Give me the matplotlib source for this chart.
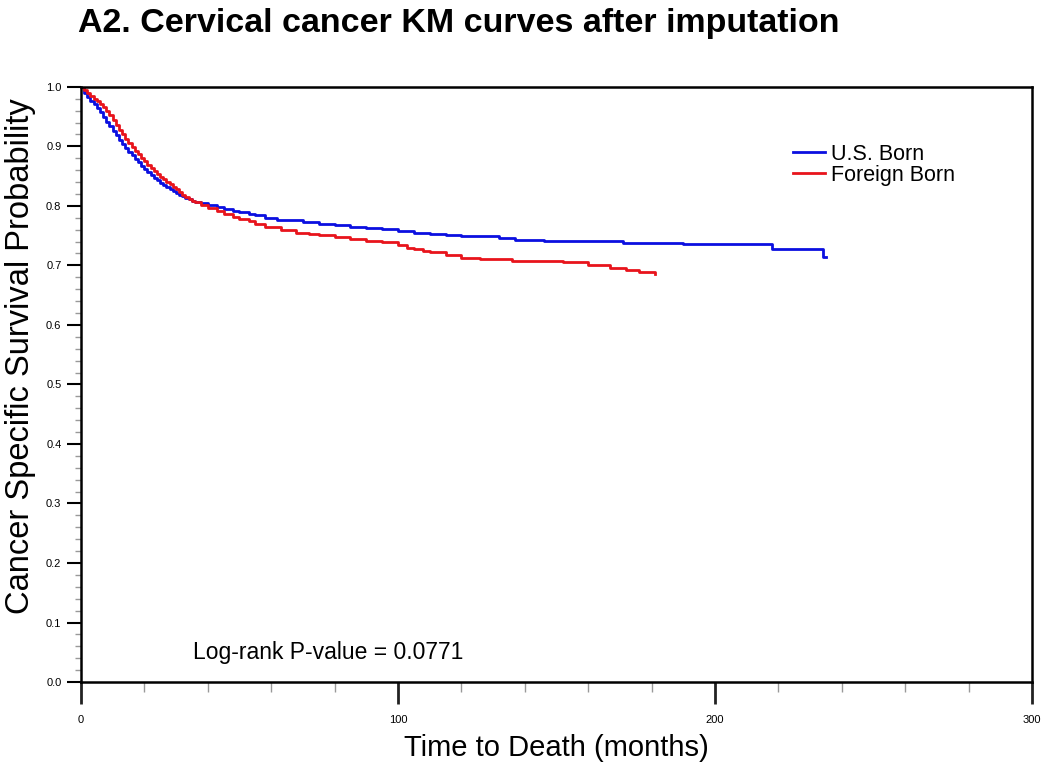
import matplotlib
matplotlib.use("Agg")
import matplotlib.pyplot as plt
from matplotlib.ticker import MultipleLocator

plt.rcParams['font.family'] = ['Liberation Sans', 'DejaVu Sans']

# Kaplan-Meier estimates (months, survival)
us_time = [0, 1, 2, 3, 4, 5, 6, 7, 8, 9, 10, 11, 12, 13, 14, 15, 16, 17, 18, 19, 20,
           21, 22, 23, 24, 25, 26, 27, 28, 29, 30, 31, 32, 33, 34, 35, 36, 38, 40, 43,
           45, 48, 50, 53, 55, 58, 62, 65, 70, 75, 80, 85, 90, 95, 100, 105, 110, 115,
           120, 126, 132, 137, 146, 171, 190, 218, 234, 235]
us_surv = [1.0, 0.99, 0.983, 0.977, 0.971, 0.964, 0.957, 0.949, 0.941, 0.934, 0.926, 0.919,
           0.911, 0.904, 0.897, 0.891, 0.885, 0.879, 0.873, 0.867, 0.862, 0.857, 0.852, 0.847,
           0.843, 0.838, 0.835, 0.831, 0.828, 0.825, 0.822, 0.819, 0.816, 0.813, 0.811, 0.809,
           0.807, 0.804, 0.801, 0.798, 0.795, 0.792, 0.790, 0.787, 0.784, 0.779, 0.777, 0.776,
           0.773, 0.770, 0.767, 0.765, 0.763, 0.761, 0.758, 0.755, 0.753, 0.751, 0.750, 0.749,
           0.746, 0.743, 0.741, 0.737, 0.736, 0.728, 0.714, 0.714]

fb_time = [0, 1, 2, 3, 4, 5, 6, 7, 8, 9, 10, 11, 12, 13, 14, 15, 16, 17, 18, 19, 20,
           21, 22, 23, 24, 25, 26, 27, 28, 29, 30, 31, 32, 33, 34, 35, 36, 38, 40, 43,
           45, 48, 50, 53, 55, 58, 63, 68, 72, 75, 80, 85, 90, 95, 100, 103, 105, 108,
           110, 115, 120, 126, 136, 152, 160, 167, 172, 176, 181]
fb_surv = [1.0, 0.995, 0.99, 0.985, 0.98, 0.976, 0.971, 0.966, 0.959, 0.952, 0.944, 0.936,
           0.928, 0.92, 0.913, 0.906, 0.899, 0.893, 0.887, 0.881, 0.875, 0.869, 0.864, 0.859,
           0.854, 0.849, 0.845, 0.84, 0.836, 0.832, 0.829, 0.824, 0.819, 0.815, 0.812, 0.809,
           0.806, 0.801, 0.797, 0.791, 0.787, 0.782, 0.778, 0.774, 0.770, 0.765, 0.760, 0.754,
           0.753, 0.751, 0.748, 0.745, 0.741, 0.739, 0.734, 0.730, 0.727, 0.724, 0.722, 0.717,
           0.713, 0.710, 0.7075, 0.705, 0.701, 0.695, 0.692, 0.689, 0.686]

fig = plt.figure(figsize=(10.5, 7.71), dpi=100)
ax = fig.add_axes([0.077, 0.1154, 0.906, 0.772])

ax.step(us_time, us_surv, where='post', color='#0b0fe0', lw=2.0, label='U.S. Born')
ax.step(fb_time, fb_surv, where='post', color='#e8141c', lw=2.0, label='Foreign Born')

ax.set_xlim(0, 300)
ax.set_ylim(0, 1.0)
ax.xaxis.set_major_locator(MultipleLocator(100))
ax.xaxis.set_minor_locator(MultipleLocator(20))
ax.yaxis.set_major_locator(MultipleLocator(0.1))
ax.yaxis.set_minor_locator(MultipleLocator(0.02))
ax.tick_params(axis='x', which='major', length=16, width=2, labelsize=8, pad=8, color='#222222')
ax.tick_params(axis='x', which='minor', length=7, width=1, color='#999999')
ax.tick_params(axis='y', which='major', length=10, width=1.5, labelsize=8, pad=4)
ax.tick_params(axis='y', which='minor', length=4, width=1, color='#999999')
ax.yaxis.set_major_formatter(plt.FuncFormatter(lambda v, p: f"{v:.1f}"))
for s in ax.spines.values():
    s.set_linewidth(1.8)

ax.set_xlabel('Time to Death (months)', fontsize=21, labelpad=6)
ax.set_ylabel('Cancer Specific Survival Probability', fontsize=23.5)
ax.yaxis.set_label_coords(-0.047, 0.548)

ax.text(35.5, 0.038, 'Log-rank P-value = 0.0771', fontsize=16.5)

ax.legend(loc='upper left', bbox_to_anchor=(0.737, 0.922), frameon=False, fontsize=15.5,
          handlelength=1.5, handletextpad=0.3, labelspacing=0.0, borderpad=0)

fig.text(0.074, 0.99, 'A2. Cervical cancer KM curves after imputation', fontsize=24.5,
         fontweight='bold', va='top', ha='left')

fig.savefig('out.png', dpi=100)
